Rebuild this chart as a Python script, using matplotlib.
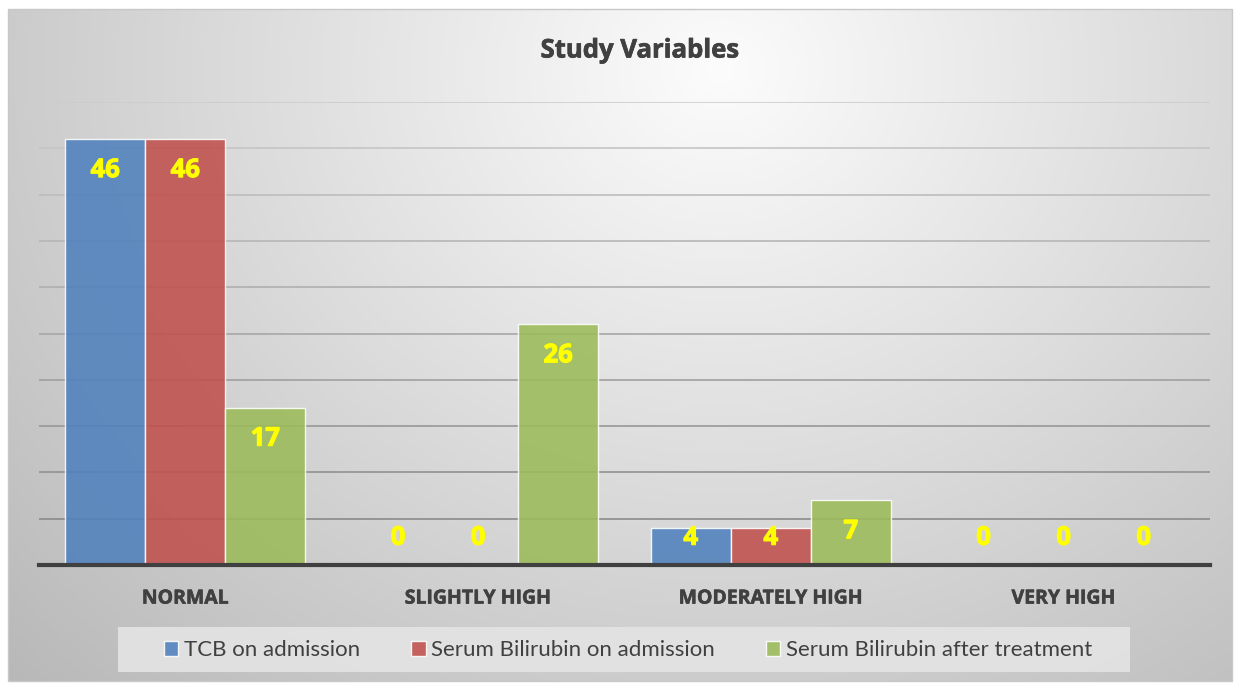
import numpy as np
import matplotlib.pyplot as plt
import matplotlib.patheffects as pe
from matplotlib.patches import Rectangle

# ____________________________________________________________________
# DATA

categories = ['NORMAL', 'SLIGHTLY HIGH', 'MODERATELY HIGH', 'VERY HIGH']
series_names = ['TCB on admission', 'Serum Bilirubin on admission', 'Serum Bilirubin after treatment']
tcb_admission = [46, 0, 4, 0]
serum_admission = [46, 0, 4, 0]
serum_after = [17, 26, 7, 0]

colours = ['#4F81BD', '#C0504D', '#9BBB59']
txt_col = '#404040'
bold_font = ['Open Sans', 'DejaVu Sans']

W, H = 1239, 684
plt.rcParams['font.family'] = ['Lato', 'DejaVu Sans']


def thick(col, lw):
    # the installed bold is a bit light, so thicken it with a thin stroke
    return [pe.withStroke(linewidth=lw, foreground=col)]


fig = plt.figure(figsize=(W / 100, H / 100), dpi=100)
fig.patch.set_facecolor('white')

# ____________________________________________________________________
# BACKGROUND GRADIENT (chart area frame)

bg = fig.add_axes([0, 0, 1, 1], zorder=0)
yy, xx = np.mgrid[0:H, 0:W]
dist = np.sqrt((xx - 720.0) ** 2 + ((yy - 70.0) * 1.15) ** 2)
val = np.clip(252 - 0.068 * dist, 0, 255) / 255.0
img = np.dstack([val, val, val])
inside = (xx >= 8) & (xx <= 1232) & (yy >= 9) & (yy <= 681)
img[~inside] = 1.0
bg.imshow(img, extent=[0, W, H, 0], aspect='auto', interpolation='bilinear')
bg.add_patch(Rectangle((8, 9), 1224, 672, fill=False, edgecolor='#c8c8c8', lw=1))
bg.set_xlim(0, W)
bg.set_ylim(H, 0)
bg.axis('off')

# ____________________________________________________________________
# BARS

left, right, base, top = 39, 1210, 565, 102
ax = fig.add_axes([left / W, 1 - base / H, (right - left) / W, (base - top) / H], zorder=1)
ax.patch.set_alpha(0)
ax.set_xlim(-0.5, len(categories) - 0.5)
ax.set_ylim(0, 50)

# gridlines get darker toward the bottom
for lev in range(5, 51, 5):
    g = 0.80 - (50 - lev) / 45 * 0.26
    ax.axhline(lev, color=(g, g, g), lw=1.2, zorder=1)

x = np.arange(len(categories))
bw = 80 / 292.5
all_series = [tcb_admission, serum_admission, serum_after]
for i, vals in enumerate(all_series):
    xs = x + (i - 1) * bw
    ax.bar(xs, vals, width=bw, color=colours[i], alpha=0.88, edgecolor=(1, 1, 1, 0.6),
           lw=1, zorder=2, label=series_names[i])
    for xi, v in zip(xs, vals):
        ax.text(xi, max(v - 3.3, 3.0), str(v), ha='center', va='center', color='#FFFF00',
                fontsize=18.5, fontweight='bold', family=bold_font, zorder=4,
                path_effects=thick('#FFFF00', 0.8))

ax.axhline(0, color='#404040', lw=3, zorder=3, clip_on=False)
for s in ax.spines.values():
    s.set_visible(False)
ax.set_yticks([])
ax.set_xticks(x)
ax.set_xticklabels(categories, fontsize=14, fontweight='bold', color=txt_col, family=bold_font)
for t in ax.get_xticklabels():
    t.set_path_effects(thick(txt_col, 0.4))
ax.tick_params(axis='x', length=0, pad=17)

fig.text(640 / W, 1 - 50 / H, 'Study Variables', ha='center', va='center', fontsize=18.5,
         fontweight='bold', color=txt_col, family=bold_font, path_effects=thick(txt_col, 0.5))

# ____________________________________________________________________
# LEGEND

bg.add_patch(Rectangle((118, 627), 1012, 45, facecolor='#e4e4e4', edgecolor='none', alpha=0.9))
handles, labels = ax.get_legend_handles_labels()
leg = fig.legend(handles, labels, loc='center', bbox_to_anchor=(628 / W, 1 - 650 / H), ncol=3,
                 frameon=False, fontsize=16, handlelength=0.65, handleheight=0.65,
                 handletextpad=0.25, columnspacing=2.3, labelcolor=txt_col)

fig.savefig('out.png', dpi=100)
